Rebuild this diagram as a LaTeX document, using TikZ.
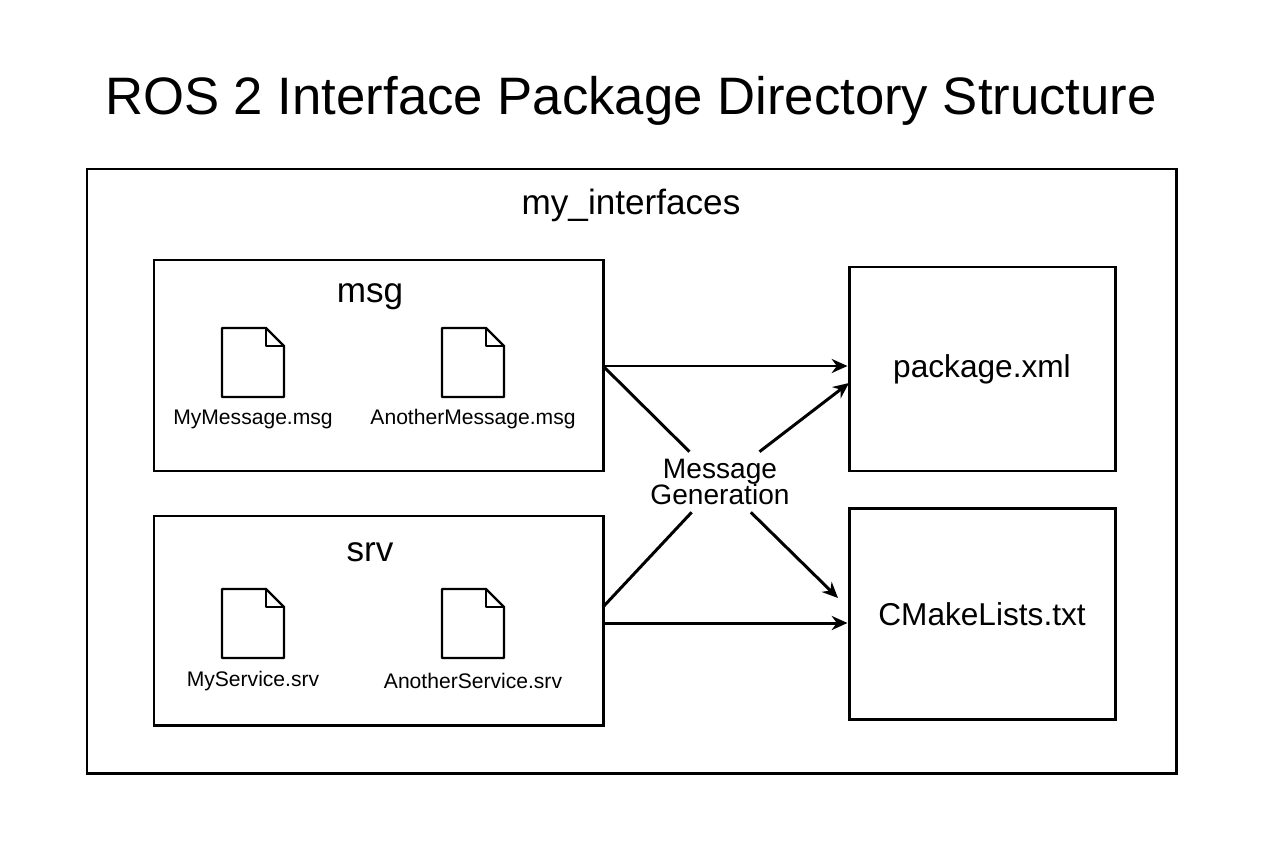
\documentclass[tikz,border=0pt]{standalone}
\usepackage{fontspec}
\setmainfont{Liberation Sans}
\usetikzlibrary{arrows.meta}
\tikzset{
  box/.style={draw=black, line width=1.7pt},
  lbl/.style={inner sep=0pt},
  arr/.style={line width=1.7pt, -{Stealth[length=9pt,width=8pt]}},
  ln/.style={line width=1.7pt},
}
% file icon with folded corner
\newcommand{\fileicon}[2]{%
  \draw [line width=1.4pt, line join=round] (#1,#2) -- (#1+44,#2) -- (#1+62,#2+18) -- (#1+62,#2+69) -- (#1,#2+69) -- cycle;
  \draw [line width=1.4pt, line join=round] (#1+44,#2) -- (#1+44,#2+18) -- (#1+62,#2+18);
}
\begin{document}
\begin{tikzpicture}[x=0.02cm, y=-0.02cm]
\useasboundingbox (0,0) rectangle (1264,848);
\node [lbl] (title) at (631,101) {\fontsize{30}{36}\selectfont ROS 2 Interface Package Directory Structure};
% outer package
\draw [box] (87,169) rectangle (1176,773);
\node [lbl] (pkgname) at (631,205) {\fontsize{20}{24}\selectfont my\_interfaces};
% msg folder
\draw [box] (154,260) rectangle (603,471);
\node [lbl] (msg) at (370,297) {\fontsize{20}{24}\selectfont msg};
\fileicon{222}{328}
\fileicon{442}{328}
\node [lbl] (mymsg) at (253,419) {\fontsize{12}{14}\selectfont MyMessage.msg};
\node [lbl] (anmsg) at (473,419) {\fontsize{12}{14}\selectfont AnotherMessage.msg};
% srv folder
\draw [box] (154,516) rectangle (603,725);
\node [lbl] (srv) at (370,552) {\fontsize{20}{24}\selectfont srv};
\fileicon{222}{589}
\fileicon{442}{589}
\node [lbl] (mysrv) at (253,681) {\fontsize{12}{14}\selectfont MyService.srv};
\node [lbl] (ansrv) at (473,681) {\fontsize{12}{14}\selectfont AnotherService.srv};
% output files
\node [box, minimum width=266*0.02cm, minimum height=204*0.02cm] (pkgxml) at (982,369) {\fontsize{18}{22}\selectfont package.xml};
\node [box, minimum width=266*0.02cm, minimum height=211*0.02cm] (cmake) at (982,614) {\fontsize{18}{22}\selectfont CMakeLists.txt};
% generation
\node [align=center, inner sep=4pt] (gen) at (720,482) {\fontsize{16}{20}\selectfont Message\\[-1pt]\fontsize{16}{20}\selectfont Generation};
\coordinate (msgout) at (603,366);
\coordinate (srvout) at (603,623);
\coordinate (msgx) at (603,366);
\coordinate (srvx) at (603,607);
\draw [arr] (msgout) -- (pkgxml.west |- msgout);
\draw [arr] (srvout) -- (cmake.west |- srvout);
\draw [ln] (msgx) -- (gen);
\draw [ln] (srvx) -- (gen);
\draw [arr] (gen) -- (849,383);
\draw [arr] (gen) -- (838,598);
\end{tikzpicture}
\end{document}
